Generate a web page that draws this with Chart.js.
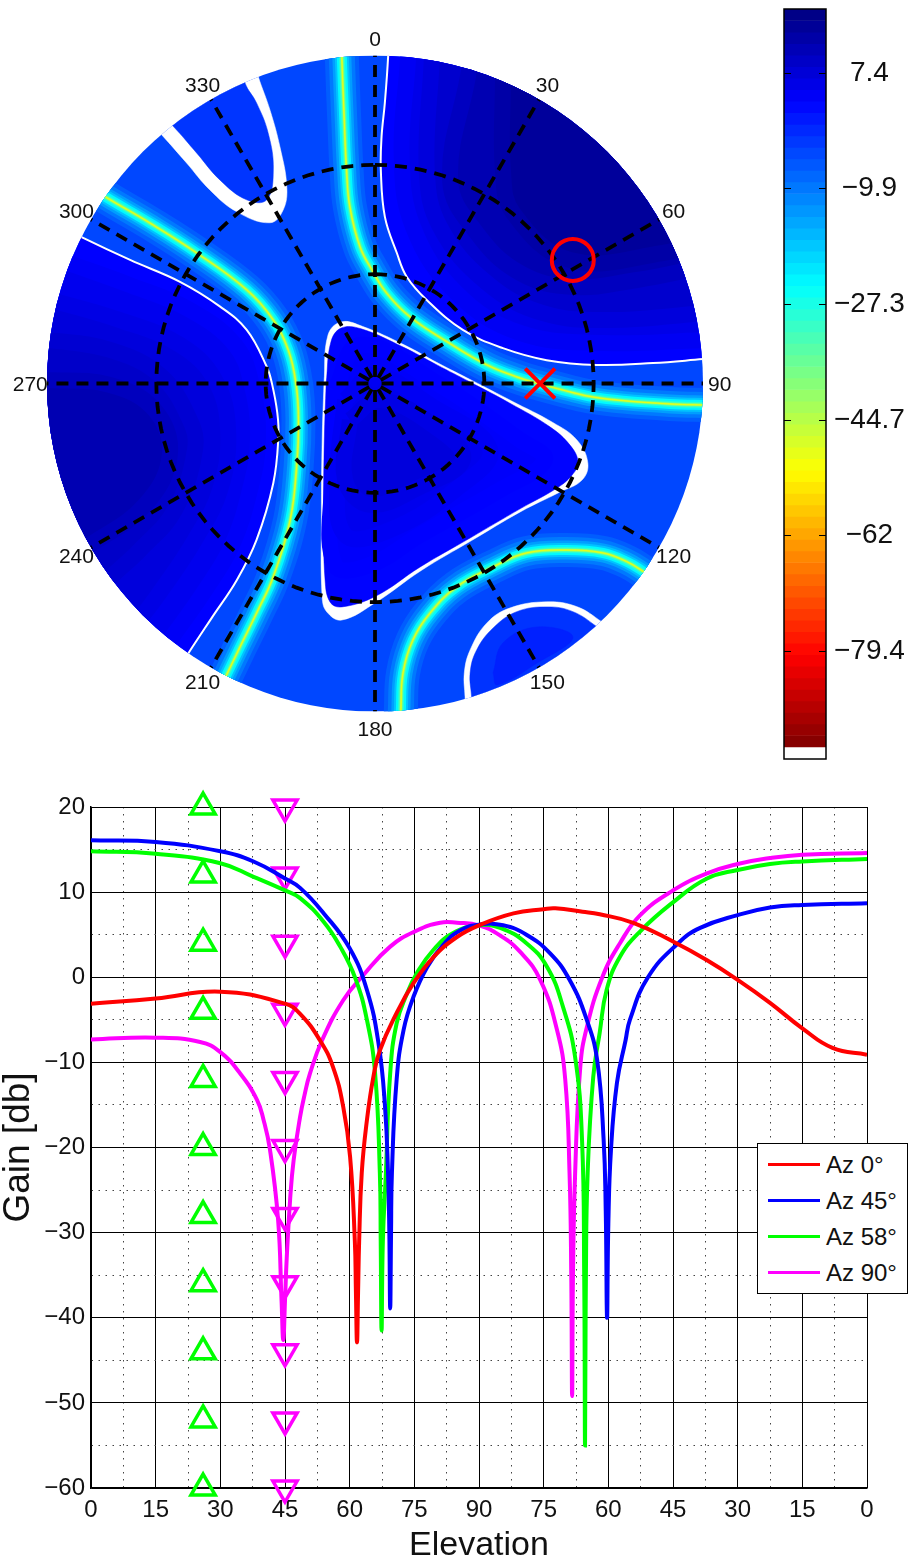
<!DOCTYPE html>
<html>
<head>
<meta charset="utf-8">
<title>Gain pattern</title>
<script src="https://cdn.jsdelivr.net/npm/chart.js@4/dist/chart.umd.js"></script>
<style>
body { margin: 0; background: #fff; }
#page { position: relative; width: 912px; height: 1563px; overflow: hidden; }
canvas { position: absolute; }
#legend { position: absolute; left: 757px; top: 1143px; width: 149px; height: 149px; background: #fff; border: 1.5px solid #000;
  font: 24px "Liberation Sans", sans-serif; color: #111; box-sizing: content-box; }
#legend div { position: absolute; left: 68px; line-height: 36px; white-space: nowrap; }
#legend span { position: absolute; left: 10px; width: 52px; height: 3.5px; }
</style>
</head>
<body>
<div id="page">
  <canvas id="patternChart" width="760" height="770" style="left:0;top:0"></canvas>
  <canvas id="barChart" width="142" height="780" style="left:770px;top:0"></canvas>
  <canvas id="gainChart" width="915" height="786" style="left:-3px;top:780px"></canvas>
  <div id="legend"></div>
</div>
<script>
const FONT = '"Liberation Sans", sans-serif';

// --- gain cuts, elevation runs 0..90..0 on the axis so it is stored as 0..180
const az0Elev = [0, 15, 30, 45, 48.5, 53.1, 56.1, 58.5, 60.1, 61.2, 61.45, 61.7, 61.95, 62.2, 62.8, 64, 65.5, 67, 70.9, 74.8, 79.5, 84.8, 90, 98, 105, 107.7, 114, 118, 125.8, 135, 142.9, 150, 157.5, 165, 172, 180];
const az0Gain = [-3.1, -2.5, -1.7, -3.1, -4.3, -7.4, -10.5, -15.2, -21.1, -31, -37, -42.9, -37, -31, -23, -16.8, -11.7, -8.6, -4.2, -0.7, 2.4, 4.7, 6.1, 7.5, 8, 8.1, 7.7, 7.4, 6.4, 4.2, 2, -0.3, -3, -6, -8.3, -9.1];

const az45Elev = [0, 15, 30, 37.7, 45, 48.5, 54, 60, 64, 66.7, 68.2, 68.9, 69.2, 69.4, 69.6, 69.8, 70.9, 72.5, 74.8, 78, 81.7, 85.6, 90.3, 95.6, 101, 106.5, 111, 115, 117.4, 118.9, 119.4, 119.7, 120, 120.6, 122, 124, 125, 129.2, 136.2, 141.3, 150, 157.5, 165, 180];
const az45Gain = [16.1, 15.9, 14.8, 13.6, 11.6, 10.5, 7.5, 3.4, -1.5, -7.8, -15.2, -23, -30, -38.9, -30, -23, -12, -6.2, -2.3, 1.2, 3.8, 5.5, 6.2, 6.1, 5, 2.8, -0.3, -5, -9.7, -19, -27.5, -40, -29, -20.4, -12.4, -7.4, -5, 0, 4, 5.8, 7.3, 8.2, 8.5, 8.7];

const az58Elev = [0, 15, 30, 37.7, 45, 48.5, 54, 57.8, 61.3, 64, 65.9, 67, 67.2, 67.4, 67.7, 68.4, 69.4, 70.9, 73.3, 75.6, 79.4, 84, 90, 94.9, 101, 105.8, 109.5, 112.3, 113.9, 114.4, 114.6, 114.8, 115.2, 116.5, 118, 119.6, 122.7, 127.4, 135, 142.9, 150, 157.5, 165, 180];
const az58Gain = [14.8, 14.5, 13.4, 11.8, 10.2, 9.3, 6.5, 3.6, -0.1, -5, -11.3, -23, -31, -41.5, -31, -23, -11.3, -5.4, -1.9, 0.5, 3.2, 5.2, 6.1, 5.8, 4, 1.2, -3.5, -9.4, -19.1, -35, -55, -35, -23, -11.7, -6.5, -1.5, 2.4, 5.4, 8.8, 11.6, 12.6, 13.3, 13.6, 13.9];

const az90Elev = [0, 15, 25.3, 30, 34.6, 38.5, 40, 41.5, 43.4, 44.2, 44.6, 45, 45.4, 46.2, 47, 48.5, 49.5, 50.8, 53.6, 58.5, 63.1, 69.4, 75.6, 81, 84.9, 90, 94.9, 99.5, 104.2, 108.1, 110, 111, 111.4, 111.6, 111.8, 112.3, 113.5, 115, 118.6, 122.7, 127.4, 135, 142.9, 150, 157.5, 165, 180];
const az90Gain = [-7.3, -7.1, -7.6, -8.8, -11.3, -14.4, -16.7, -20.2, -28.5, -38, -42.6, -38, -33, -26, -21.5, -16.4, -13.9, -11.3, -7.4, -2.7, 0.2, 3.6, 5.5, 6.4, 6.4, 6.1, 4.9, 3, -0.3, -6.2, -12, -23, -35, -49.2, -35, -23, -10.5, -5.9, 0, 4, 7.3, 10.2, 12.2, 13.3, 14, 14.4, 14.6];

const seriesNames = ['Az 0°', 'Az 45°', 'Az 58°', 'Az 90°'];
const seriesColors = ['#ff0000', '#0000ff', '#00ff00', '#ff00ff'];

// marker columns on the cut plot
const upElev = 26;
const downElev = 45;
const markerGains = [20, 12, 4, -4, -12, -20, -28, -36, -44, -52, -60];
const elevationLabels = [0, 15, 30, 45, 60, 75, 90, 75, 60, 45, 30, 15, 0];

// --- colourbar
const colorTicks = [7.4, -9.9, -27.3, -44.7, -62, -79.4];
const gainTop = 17;
const gainBottom = -93.8;
const barBottom = -95.6;
const colorLevels = 64;

// --- polar map, x/y are degrees off zenith (north up, east right)
const azimuths = [0, 30, 60, 90, 120, 150, 180, 210, 240, 270, 300, 330];
const rings = [30, 60];
const peakMark = [{ az: 58, zen: 64 }];
const nullMark = [{ az: 90, zen: 45.3 }];

const nullTop = [[-9.2,96],[-9.1,89.7],[-8.4,71.5],[-7.8,58.6],[-6.9,48.5],[-4.1,37.5],[-0.8,31.1],[3.2,24.8],[9.6,18.3],[19.7,11.5],[30.7,5.1],[39.8,1.5],[44.5,0.1],[53.5,-2.3],[59.8,-3.7],[68.1,-4.7],[80.9,-5.6],[90,-5.9],[96,-6]];
const nullLeft = [[-78,54],[-74.1,51.3],[-61.7,44],[-48.9,35.8],[-35.2,25.7],[-27.9,17.4],[-23.8,9.2],[-21.7,0.1],[-21,-10],[-21.5,-22.8],[-23.3,-37.5],[-27.9,-53],[-32.5,-63],[-37,-72.2],[-40.9,-80.3],[-43,-84.5]];
const nullBottom = [[7,-96],[7.1,-89.6],[7.7,-79.4],[10.4,-70.4],[15.1,-63],[22.4,-55.8],[32.4,-50.3],[41.6,-46.5],[52.6,-45.7],[62.6,-46.5],[69.1,-48.9],[74.1,-51.9],[78,-54.5]];

const whiteNE = [[3.7,96],[3.6,89.7],[2.7,77],[1.8,67.7],[1.6,58.6],[2.7,45.8],[6,35.8],[8.7,29.3],[14.2,22.9],[24.1,14.7],[35.1,9.7],[47.1,6.4],[60.8,5.1],[76.3,5.6],[90,6.7],[96,7.2]];
const whiteW = [[-88,44],[-80.8,40.3],[-67.2,33.9],[-53.5,27.9],[-42.5,21.1],[-35.2,14.7],[-29.7,4.6],[-28.3,0.1],[-26.8,-8.1],[-26.5,-14.6],[-27.9,-27.3],[-32.5,-42.9],[-37.9,-53.9],[-44.8,-64.3],[-51.2,-74],[-55,-80]];
const triOuter = [[-14,0.1],[-12.9,13.3],[-9.3,16.9],[-3.5,15.7],[8,10.6],[17.3,5.6],[26.5,0.9],[37.5,-4.8],[48.8,-10.7],[55.4,-15.5],[58.4,-21.8],[56.8,-26.5],[50.5,-29.9],[40.1,-35.1],[26.5,-43.1],[12.7,-51.3],[0.3,-60],[-9.1,-64.9],[-13.2,-62.7],[-14.5,-58.6],[-14.7,-35.5],[-14.5,-15.5],[-14,0.1]];
const triInner = [[-13.4,0.1],[-12.1,11.4],[-9.3,15.2],[-3.8,15],[7.7,10],[17,5.1],[26.1,0.4],[37,-5.4],[48,-11.9],[53.5,-16.9],[55.7,-21.5],[54.1,-25.1],[49.9,-28.7],[39.8,-34.4],[26.1,-42.4],[12.3,-50.4],[0.3,-58.3],[-9.1,-61.3],[-12.3,-60],[-13.7,-53.9],[-14.1,-35.5],[-13.9,-15.5],[-13.4,0.1]];
const wedgeOuter = [[-64,74],[-58.5,68.2],[-51.7,60.5],[-45.3,53.1],[-37.9,47.1],[-28.8,44.1],[-25.2,47.6],[-24.2,54],[-26.1,65],[-28.8,75],[-32,84.1],[-35,94],[-60,100]];
const wedgeInner = [[-62,77],[-55.3,70.5],[-48.9,63.2],[-42.5,55.8],[-35.2,50.4],[-29.7,50.4],[-27.9,58.6],[-29.3,68.7],[-32.5,77],[-35.7,82.5],[-38,92],[-60,100]];
const lobeOuter = [[24.9,-92],[24.7,-86],[24.5,-79.4],[26.1,-73.1],[30.7,-65.7],[37,-61.6],[47.1,-59.9],[55.3,-61.2],[62.2,-65.4],[68,-70],[70,-95]];
const lobeInner = [[26.8,-92],[26.5,-85.9],[26.1,-79.4],[27.9,-73.1],[32.4,-67.1],[38.9,-62.6],[47.5,-61.3],[54.3,-62.6],[60.8,-66.7],[67,-72],[68,-95]];
const lobeCore = [[32.4,-79.4],[35.1,-71.2],[44.5,-66.8],[54.3,-69.6],[44.5,-76.7],[33.5,-82.7],[32.4,-79.4]];

// filled gain contours
const neLevel1 = [[9.1,100],[9.1,89.7],[7.3,63.2],[10.4,43],[22.4,24.8],[39.8,13.9],[62.6,11.1],[90,11.9],[100,12],[110,110]];
const neLevel2 = [[15.6,100],[15.6,89.7],[14.2,58.6],[17.8,43],[30.7,27.6],[46.1,19.3],[64.5,17.4],[90,19.3],[100,20],[110,110]];
const neLevel3 = [[26,100],[26.1,88],[20.6,55.8],[27.9,41.3],[39.8,30.3],[54.3,26.5],[71.9,28.4],[90,32],[100,34],[110,110]];
const neLevel4 = [[35,100],[35.1,83.3],[35.1,58.6],[37.9,46.8],[53.5,33.9],[79,35.8],[90,39.4],[100,43],[110,110]];
const wLevel1 = [[-92,36],[-86.4,33.9],[-67.2,27],[-50.8,20.2],[-38.4,10.6],[-33.8,-0.4],[-32.1,-15.5],[-34.3,-29.2],[-39.2,-44.3],[-46.6,-56.7],[-56.3,-70.4],[-60,-75],[-110,-110]];
const wLevel2 = [[-95,24],[-89.2,22.9],[-70,17.4],[-53.5,10.6],[-43.9,1],[-40.3,-12.8],[-42.5,-29.2],[-49.4,-42.9],[-57.6,-55.3],[-67.2,-67.6],[-110,-110]];
const wLevel3 = [[-95,12],[-89.2,11.9],[-72.7,9.2],[-59,2.3],[-50.8,-10],[-49.4,-18.2],[-54.9,-34.7],[-64.5,-45.7],[-75.5,-56.7],[-110,-110]];
const wLevel4 = [[-95,1],[-90.6,1],[-72.7,-0.4],[-60.4,-7.3],[-56.3,-19.6],[-63.1,-33.3],[-78.2,-44.3],[-85,-48],[-110,-110]];
const triLevel1 = [[-11,-1.8],[-4.1,10.6],[17.8,-0.4],[39.8,-15.5],[46.6,-21],[34.3,-29.2],[12.3,-41.6],[-1.4,-49.8],[-11,-49.8],[-11.8,-26.5],[-11,-1.8]];
const triLevel2 = [[-8.2,-4.5],[0,2.3],[15.1,-5.9],[31.6,-18.2],[22,-29.2],[4.1,-40.2],[-8.2,-41.6],[-10.2,-23.7],[-8.2,-4.5]];
const triLevel3 = [[-6.9,-10],[1.4,-4.5],[17.8,-12.8],[24.1,-21],[12.3,-28.4],[-1.4,-33.3],[-8.2,-26.5],[-6.9,-10]];

const backgroundGain = -4.6;
const neGains = [3.1, 5.5, 8.5, 11.5, 14];
const westGains = [3.1, 5, 7, 9, 11.5];
const triGains = [2.8, 3.6, 5, 7];
const wedgeGain = -2.6;
const lobeGains = [-2.4, -0.3];
const glowGains = [-7, -10, -14, -18, -24, -29, -36, -44, -50];
const glowWidths = [34, 26, 19, 14, 10, 6, 3.5, 2, 1];

// jet colour for a gain, same map the colourbar uses
function jet(gain) {
    const u = (gainTop - gain) / (gainTop - gainBottom);
    const c = v => Math.round(255 * Math.max(0, Math.min(1, v)));
    return `rgb(${c(1.5 - Math.abs(4 * u - 3))},${c(1.5 - Math.abs(4 * u - 2))},${c(1.5 - Math.abs(4 * u - 1))})`;
}

const xy = pts => pts.map(([x, y]) => ({ x, y }));
const polar = (az, zen) => ({ x: zen * Math.sin(az * Math.PI / 180), y: zen * Math.cos(az * Math.PI / 180) });

function area(pts, color, edge, edgeWidth) {
    return { data: xy(pts), showLine: true, fill: 'shape', backgroundColor: color, borderColor: edge || color, borderWidth: edgeWidth || 0.5, pointRadius: 0, tension: 0.4, clip: false };
}
function stroke(pts, color, width) {
    return { data: pts, showLine: true, fill: false, borderColor: color, borderWidth: width, pointRadius: 0, tension: 0.4, clip: false };
}
// nested levels, the thick edge gives one extra colour step between two levels
function levels(layers, contours, gains) {
    contours.forEach((c, i) => {
        if (i === 0) layers.push(area(c, jet(gains[0])));
        else layers.push(area(c, jet(gains[i]), jet((gains[i - 1] + gains[i]) / 2), 16));
    });
}

// clip all the layers to the disk
const diskClip = {
    id: 'diskClip',
    beforeDatasetsDraw(chart) {
        const { ctx, scales: { x, y } } = chart;
        ctx.save();
        ctx.beginPath();
        ctx.arc(x.getPixelForValue(0), y.getPixelForValue(0), x.getPixelForValue(90) - x.getPixelForValue(0), 0, Math.PI * 2);
        ctx.clip();
    },
    afterDatasetsDraw(chart) {
        chart.ctx.restore();
    }
};

const azimuthLabels = {
    id: 'azimuthLabels',
    afterDraw(chart) {
        const { ctx, scales: { x, y } } = chart;
        ctx.save();
        ctx.font = '21px ' + FONT;
        ctx.fillStyle = '#111';
        ctx.textAlign = 'center';
        ctx.textBaseline = 'middle';
        azimuths.forEach(az => {
            const p = polar(az, 94.6);
            ctx.fillText(String(az), x.getPixelForValue(p.x), y.getPixelForValue(p.y) + 1.5);
        });
        ctx.restore();
    }
};

function createPatternChart() {
    const layers = [];
    layers.push({ ...area([[-110, -110], [-110, 110], [110, 110], [110, -110]], jet(backgroundGain)), tension: 0 });

    // soft bands around the nulls, widest first
    glowWidths.forEach((w, i) => {
        [nullTop, nullLeft, nullBottom].forEach(n => layers.push(stroke(xy(n), jet(glowGains[i]), w)));
    });

    // regions sitting behind the white contours
    levels(layers, [[...whiteNE, [110, 110]], neLevel1, neLevel2, neLevel3, neLevel4], neGains);
    levels(layers, [[...whiteW, [-110, -110]], wLevel1, wLevel2, wLevel3, wLevel4], westGains);
    layers.push(area(wedgeOuter, '#ffffff'));
    layers.push(area(wedgeInner, jet(wedgeGain)));
    layers.push(area(lobeOuter, '#ffffff'));
    layers.push(area(lobeInner, jet(lobeGains[0])));
    layers.push(area(lobeCore, jet(lobeGains[1])));
    layers.push(area(triOuter, '#ffffff'));
    levels(layers, [triInner, triLevel1, triLevel2, triLevel3], triGains);
    layers.push(stroke(xy(whiteNE), '#ffffff', 2));
    layers.push(stroke(xy(whiteW), '#ffffff', 2));

    // polar grid
    const dash = [12, 8];
    rings.forEach(r => {
        const pts = [];
        for (let a = 0; a <= 360; a += 3) pts.push(polar(a, r));
        layers.push({ ...stroke(pts, '#000', 3.8), borderDash: dash, tension: 0 });
    });
    azimuths.forEach(az => {
        layers.push({ ...stroke([polar(az, 1.8), polar(az, 90)], '#000', 3.8), borderDash: dash, tension: 0 });
    });

    layers.push({ data: [{ x: 0, y: 0 }], pointRadius: 4, backgroundColor: jet(4.4), borderWidth: 0, clip: false });
    layers.push({ data: peakMark.map(m => polar(m.az, m.zen)), pointStyle: 'circle', pointRadius: 21, borderColor: '#ff0000', backgroundColor: 'transparent', pointBorderWidth: 4, borderWidth: 4, clip: false });
    layers.push({ data: nullMark.map(m => polar(m.az, m.zen)), pointStyle: 'crossRot', pointRadius: 21, borderColor: '#ff0000', pointBorderWidth: 4, borderWidth: 4, clip: false });

    new Chart(document.getElementById('patternChart'), {
        type: 'scatter',
        data: { datasets: layers.reverse() },
        plugins: [diskClip, azimuthLabels],
        options: {
            responsive: false,
            animation: false,
            layout: { padding: { left: 47, right: 57, top: 55.5, bottom: 58.5 } },
            plugins: { legend: { display: false }, tooltip: { enabled: false } },
            scales: {
                x: { type: 'linear', min: -90, max: 90, display: false },
                y: { type: 'linear', min: -90, max: 90, display: false }
            }
        }
    });
}

// little inner ticks and the frame of the colourbar
const barFrame = {
    id: 'barFrame',
    afterDraw(chart) {
        const { ctx, chartArea: a, scales: { y } } = chart;
        ctx.save();
        ctx.strokeStyle = '#000';
        ctx.lineWidth = 1;
        colorTicks.forEach(v => {
            const py = Math.round(y.getPixelForValue(v)) + 0.5;
            ctx.beginPath();
            ctx.moveTo(a.left, py); ctx.lineTo(a.left + 7, py);
            ctx.moveTo(a.right - 7, py); ctx.lineTo(a.right, py);
            ctx.stroke();
        });
        ctx.lineWidth = 1.5;
        ctx.strokeRect(a.left, a.top, a.right - a.left, a.bottom - a.top);
        ctx.restore();
    }
};

function createBarChart() {
    const step = (gainTop - gainBottom) / colorLevels;
    const bands = [];
    for (let i = 0; i < colorLevels; i++) {
        const hi = gainTop - i * step;
        bands.push({ data: [[hi - step, hi]], backgroundColor: jet(hi - step / 2), borderWidth: 0, barPercentage: 1, categoryPercentage: 1, grouped: false });
    }
    new Chart(document.getElementById('barChart'), {
        type: 'bar',
        data: { labels: ['gain'], datasets: bands },
        plugins: [barFrame],
        options: {
            responsive: false,
            animation: false,
            layout: { padding: { left: 14, right: 0, top: 9, bottom: 21 } },
            plugins: { legend: { display: false }, tooltip: { enabled: false } },
            scales: {
                x: { display: false, stacked: false },
                y: {
                    position: 'right',
                    min: barBottom,
                    max: gainTop,
                    grid: { display: false },
                    border: { display: false },
                    afterFit(scale) { scale.width = 86; scale.paddingTop = 0; scale.paddingBottom = 0; },
                    afterBuildTicks(scale) { scale.ticks = colorTicks.map(value => ({ value })); },
                    ticks: {
                        autoSkip: false,
                        crossAlign: 'center',
                        padding: 0,
                        color: '#111',
                        font: { family: FONT, size: 28 },
                        callback: v => String(v).replace('-', '\u2212')
                    }
                }
            }
        }
    });
}

function createGainChart() {
    const cuts = [[az0Elev, az0Gain], [az45Elev, az45Gain], [az58Elev, az58Gain], [az90Elev, az90Gain]];
    const lines = cuts.map(([el, g], i) => ({
        label: seriesNames[i],
        data: el.map((x, k) => ({ x, y: g[k] })),
        showLine: true,
        borderColor: seriesColors[i],
        borderWidth: 4,
        pointRadius: 0,
        tension: 0.45,
        borderCapStyle: 'butt'
    }));
    const up = {
        label: 'up', data: markerGains.map(y => ({ x: upElev, y })),
        pointStyle: 'triangle', pointRadius: 14, borderColor: '#00ff00', backgroundColor: 'transparent', pointBorderWidth: 3.5, borderWidth: 3.5, clip: false
    };
    const down = {
        label: 'down', data: markerGains.map(y => ({ x: downElev, y })),
        pointStyle: 'triangle', pointRotation: 180, pointRadius: 14, borderColor: '#ff00ff', backgroundColor: 'transparent', pointBorderWidth: 3.5, borderWidth: 3.5, clip: false
    };

    const isMajorX = v => Math.abs(v % 15) < 1e-6;
    const isMajorY = v => Math.abs(v % 10) < 1e-6;

    new Chart(document.getElementById('gainChart'), {
        type: 'scatter',
        data: { datasets: [...lines, up, down] },
        options: {
            responsive: false,
            animation: false,
            layout: { padding: { left: 0, right: 45, top: 27, bottom: 0 } },
            plugins: { legend: { display: false }, tooltip: { enabled: false } },
            scales: {
                x: {
                    type: 'linear',
                    min: 0,
                    max: 180,
                    afterFit(scale) { scale.height = 78; },
                    title: { display: true, text: 'Elevation', color: '#111', font: { family: FONT, size: 34 }, padding: { top: 0, bottom: 0 } },
                    grid: {
                        color: c => (c.tick && isMajorX(c.tick.value)) ? '#000' : '#444',
                        lineWidth: 1,
                        drawTicks: false
                    },
                    border: {
                        color: '#000', width: 1.5,
                        dash: c => (c.tick && !isMajorX(c.tick.value)) ? [1.5, 5.5] : []
                    },
                    ticks: {
                        stepSize: 7.5, autoSkip: false, maxRotation: 0, minRotation: 0, padding: 8, color: '#111',
                        font: { family: FONT, size: 24 },
                        callback: v => isMajorX(v) ? String(elevationLabels[Math.round(v / 15)]) : ''
                    }
                },
                y: {
                    type: 'linear',
                    min: -60,
                    max: 20,
                    afterFit(scale) { scale.width = 94; },
                    title: { display: true, text: 'Gain [db]', color: '#111', font: { family: FONT, size: 37 }, padding: { top: 0, bottom: 0 } },
                    grid: {
                        color: c => (c.tick && isMajorY(c.tick.value)) ? '#000' : '#444',
                        lineWidth: 1,
                        drawTicks: false
                    },
                    border: {
                        color: '#000', width: 1.5,
                        dash: c => (c.tick && !isMajorY(c.tick.value)) ? [1.5, 5.5] : []
                    },
                    ticks: {
                        stepSize: 5, autoSkip: false, padding: 6, color: '#111',
                        font: { family: FONT, size: 24 },
                        callback: v => isMajorY(v) ? String(v).replace('-', '\u2212') : ''
                    }
                }
            }
        }
    });
}

function buildLegend() {
    const box = document.getElementById('legend');
    seriesNames.forEach((name, i) => {
        const y = 20 + i * 36;
        const swatch = document.createElement('span');
        swatch.style.top = (y - 1.5) + 'px';
        swatch.style.background = seriesColors[i];
        const text = document.createElement('div');
        text.style.top = (y - 17) + 'px';
        text.textContent = name;
        box.appendChild(swatch);
        box.appendChild(text);
    });
}

createPatternChart();
createBarChart();
createGainChart();
buildLegend();
</script>
</body>
</html>
